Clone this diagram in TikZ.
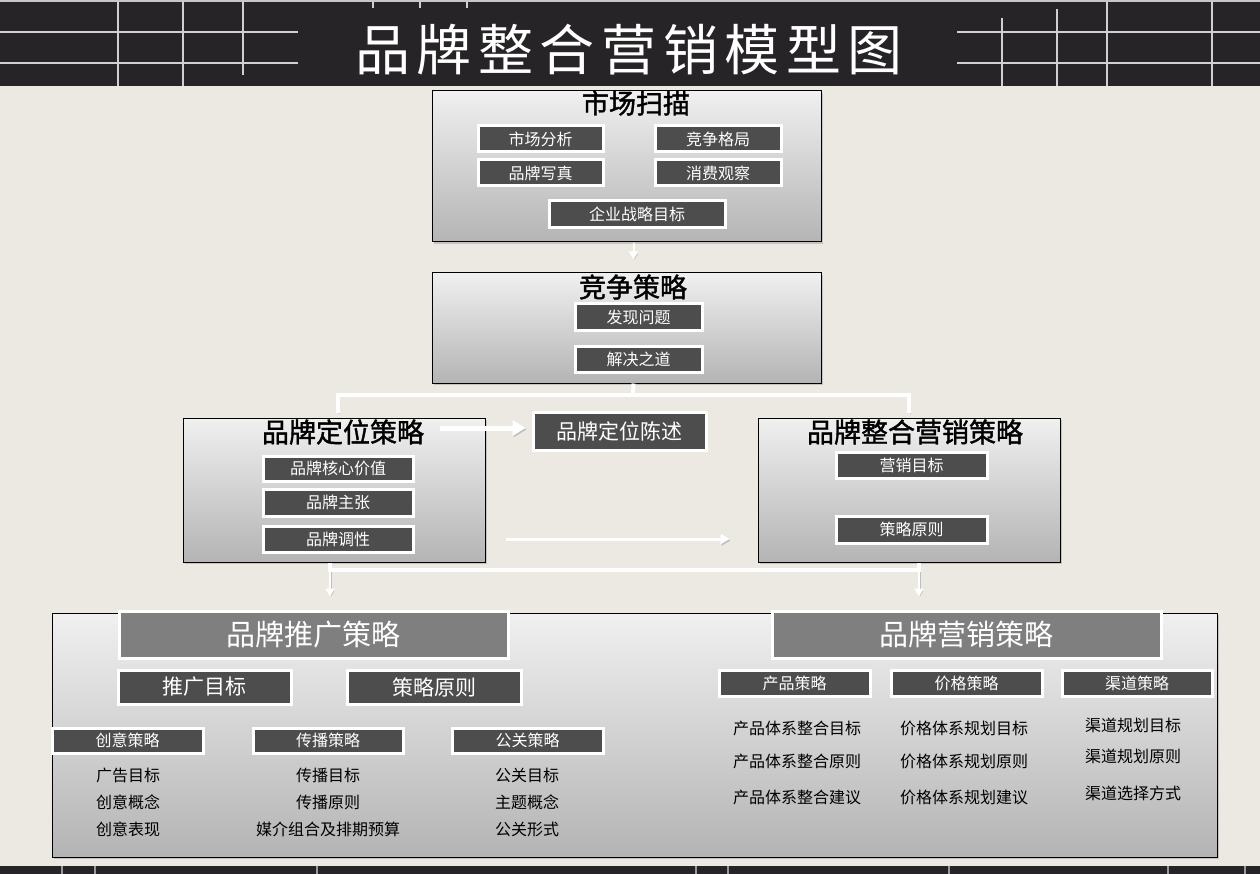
\documentclass[tikz,border=0pt]{standalone}
\usepackage{fontspec}
\setmainfont{Noto Sans CJK SC}
\usetikzlibrary{arrows.meta,shadows,calc}
\definecolor{bg}{HTML}{ECE8E2}
\definecolor{banner}{HTML}{262427}
\definecolor{innerc}{HTML}{4D4D4D}
\definecolor{headc}{HTML}{7F7F7F}
\definecolor{gtop}{HTML}{F0F0F0}
\definecolor{gbot}{HTML}{B4B4B4}
\definecolor{gridc}{HTML}{D0D0D0}
\definecolor{stripc}{HTML}{9A9A9A}
\newcommand{\bxx}[7]{\node[#2, minimum width={#5-#3}, minimum height={#6-#4}] (#1) at ({(#3+#5)/2},{(#4+#6)/2}) {#7};}
\begin{document}
\begin{tikzpicture}[x=1pt,y=-1pt,
  panel/.style={draw=black, line width=1pt, top color=gtop, bottom color=gbot, inner sep=0pt,
    drop shadow={shadow xshift=2pt, shadow yshift=-2pt, opacity=0.35}},
  ptitle/.style={font=\fontsize{27}{27}\selectfont\addfontfeature{FakeBold=1.5}, text=black, inner sep=0pt},
  ibox/.style={draw=white, line width=3pt, fill=innerc, text=white, inner sep=0pt, font=\fontsize{16}{16}\selectfont},
  ibig/.style={ibox, font=\fontsize{21}{21}\selectfont},
  hbox/.style={draw=white, line width=3pt, fill=headc, text=white, inner sep=0pt, font=\fontsize{29}{29}\selectfont},
  item/.style={text=black, inner sep=0pt, font=\fontsize{16}{16}\selectfont},
  gline/.style={draw=gridc, line width=2pt},
  sline/.style={draw=stripc, line width=2pt},
  wshadow/.style={preaction={draw=black!25, transform canvas={shift={(1pt,-1.5pt)}}}},
  conn/.style={draw=white, line width=4pt, wshadow},
  tarrow/.style={draw=white, line width=2pt, wshadow, -{Triangle[width=9pt,length=8pt]}},
  farrow/.style={draw=white, line width=5pt, wshadow, -{Triangle[width=15pt,length=13pt]}},
  marrow/.style={draw=white, line width=3pt, wshadow, -{Triangle[width=10pt,length=9pt]}}
]
\useasboundingbox (0,0) rectangle (1260,874);
\fill[bg] (0,0) rectangle (1260,874);
% top banner
\fill[black!22] (0,0) rectangle (1260,2);
\fill[banner] (0,2) rectangle (1260,86);
\draw[gline] (0,32) -- (298,32);
\draw[gline] (0,63) -- (298,63);
\draw[gline] (118,2) -- (118,86);
\draw[gline] (183,2) -- (183,86);
\draw[gline] (243,2) -- (243,75);
\draw[gline] (373,2) -- (373,8);
\draw[gline] (420,2) -- (420,8);
\draw[gline] (467,2) -- (467,8);
\draw[gline] (957,32) -- (1260,32);
\draw[gline] (957,63) -- (1260,63);
\draw[gline] (1002,18) -- (1002,86);
\draw[gline] (1057,9) -- (1057,86);
\draw[gline] (1107,2) -- (1107,86);
\draw[gline] (1212,2) -- (1212,86);
\node[text=white, inner sep=0pt, font=\fontsize{55}{55}\selectfont\addfontfeature{LetterSpace=12}] (title) at (629,50) {品牌整合营销模型图};
% bottom strip
\fill[banner] (0,866) rectangle (1260,874);
\foreach \xx in {62,95,317,696,728,949,1168,1245} \draw[sline] (\xx,866) -- (\xx,874);

% panels
\bxx{scan}{panel}{432}{91}{821}{242}{}
\bxx{comp}{panel}{432}{273}{821}{383}{}
\bxx{pos}{panel}{183}{418}{485}{562}{}
\bxx{imc}{panel}{758}{418}{1060}{562}{}
\bxx{promo}{panel}{52}{613}{1217}{857}{}

\node[ptitle] (scant) at (636,103) {市场扫描};
\node[ptitle] (compt) at (633,287) {竞争策略};
\node[ptitle] (post) at (343,432) {品牌定位策略};
\node[ptitle] (imct) at (915,432) {品牌整合营销策略};

% inner boxes
\bxx{sa}{ibox}{478}{126}{603}{152}{市场分析}
\bxx{sb}{ibox}{655}{126}{781}{152}{竞争格局}
\bxx{sc}{ibox}{478}{160}{603}{186}{品牌写真}
\bxx{sd}{ibox}{655}{160}{781}{186}{消费观察}
\bxx{se}{ibox}{549}{201}{725}{228}{企业战略目标}
\bxx{ca}{ibox}{575}{304}{702}{331}{发现问题}
\bxx{cb}{ibox}{575}{346}{702}{372}{解决之道}
\bxx{stmt}{ibig}{533}{412}{706}{450}{品牌定位陈述}
\bxx{pa}{ibox}{263}{456}{413}{481}{品牌核心价值}
\bxx{pb}{ibox}{263}{489}{413}{516}{品牌主张}
\bxx{pc}{ibox}{263}{526}{413}{552}{品牌调性}
\bxx{ma}{ibox}{836}{452}{987}{478}{营销目标}
\bxx{mb}{ibox}{836}{516}{987}{543}{策略原则}
\bxx{h1}{hbox}{119}{611}{508}{658}{品牌推广策略}
\bxx{h2}{hbox}{772}{611}{1161}{658}{品牌营销策略}
\bxx{ta}{ibig}{118}{670}{291}{704}{推广目标}
\bxx{tb}{ibig}{347}{670}{521}{704}{策略原则}
\bxx{cr}{ibox}{52}{728}{203}{753}{创意策略}
\bxx{cp}{ibox}{253}{728}{403}{753}{传播策略}
\bxx{pr}{ibox}{452}{728}{603}{753}{公关策略}
\bxx{pd}{ibox}{719}{670}{870}{696}{产品策略}
\bxx{pp}{ibox}{891}{670}{1042}{696}{价格策略}
\bxx{chn}{ibox}{1062}{670}{1212}{696}{渠道策略}

% item lists
\node[item] (i1) at (128,775) {广告目标};
\node[item] (i2) at (128,802) {创意概念};
\node[item] (i3) at (128,829) {创意表现};
\node[item] (i4) at (328,775) {传播目标};
\node[item] (i5) at (328,802) {传播原则};
\node[item] (i6) at (328,829) {媒介组合及排期预算};
\node[item] (i7) at (527,775) {公关目标};
\node[item] (i8) at (527,802) {主题概念};
\node[item] (i9) at (527,829) {公关形式};
\node[item] (k1) at (797,728) {产品体系整合目标};
\node[item] (k2) at (797,761) {产品体系整合原则};
\node[item] (k3) at (797,797) {产品体系整合建议};
\node[item] (k4) at (964,728) {价格体系规划目标};
\node[item] (k5) at (964,761) {价格体系规划原则};
\node[item] (k6) at (964,797) {价格体系规划建议};
\node[item] (k7) at (1133,725) {渠道规划目标};
\node[item] (k8) at (1133,756) {渠道规划原则};
\node[item] (k9) at (1133,793) {渠道选择方式};

% connectors
\draw[tarrow] ($(scan.south)+(7,1)$) -- ($(comp.north)+(7,-13)$);
\coordinate (j1) at (633,395);
\draw[conn] ($(comp.south)+(7,0)$) -- (j1);
\draw[conn] ($(pos.north)+(4,-5)$) |- (j1) -| ($(imc.north)+(0,-5)$);
\draw[farrow] ($(post.east)+(16,-4)$) -- ($(stmt.west)+(-6,-3)$);
\draw[marrow] ($(pos.east |- pc.center)+(20,0)$) -- ($(imc.west |- pc.center)+(-28,0)$);
\coordinate (j3) at (330,570);
\coordinate (j4) at (919,570);
\draw[conn] (pos.south -| j3) -- (j3) -- (j4) -- (imc.south -| j4);
\draw[tarrow] (j3) -- ($(j3 |- promo.north)+(0,-16)$);
\draw[tarrow] (j4) -- ($(j4 |- promo.north)+(0,-16)$);
\end{tikzpicture}
\end{document}
